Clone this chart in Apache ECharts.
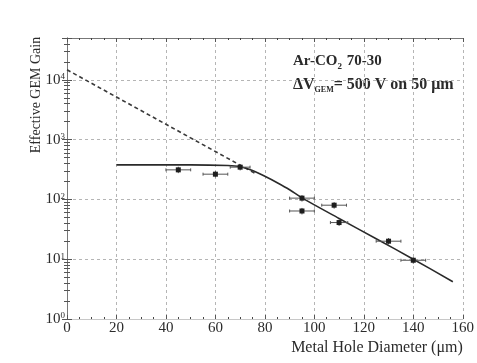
<!DOCTYPE html>
<html>
<head>
<meta charset="utf-8">
<script src="https://cdn.jsdelivr.net/npm/echarts@6/dist/echarts.min.js"></script>
<style>
  html, body { margin: 0; padding: 0; background: #fff; }
  #chart { width: 477px; height: 363px; }
</style>
</head>
<body>
<div id="chart"></div>
<script>
// measured points (hole diameter in um, effective gain)
const diameter = [45, 60, 70, 95, 95, 108, 110, 130, 140]
const diameterErr = [5, 5, 4, 5, 5, 5, 3.5, 5, 5]
const gain = [312, 264, 346, 105, 64, 80, 41, 20, 9.6]
const gainLow = [275, 233, 305, 92, 56, 70, 36, 17.6, 8.4]
const gainHigh = [352, 298, 390, 118, 72, 90, 46, 22.6, 10.8]

// fitted curve (solid) and its extrapolation (dashed)
const fitX = [20, 50, 65, 70, 75, 80, 85, 90, 95, 110, 125, 140, 156]
const fitY = [378, 378, 368, 352, 305, 243, 190, 145, 106, 48, 22, 10, 4.2]
const extrapX = [0, 76]
const extrapY = [14700, 273]

const SERIF = '"Liberation Serif", "DejaVu Serif", serif'
const INK = '#2b2b2b'
const GRID_LINE = { show: true, lineStyle: { color: '#b5b5b5', type: [3, 3], width: 1 } }

const chart = echarts.init(document.getElementById('chart'))

const pairs = (xs, ys) => xs.map((x, i) => [x, ys[i]])
const isPow10 = (v) => Math.abs(Math.log10(v) - Math.round(Math.log10(v))) < 1e-6

const xBase = {
  type: 'value',
  min: 0,
  max: 160,
  interval: 20,
  axisTick: { show: true, inside: true, length: 4, lineStyle: { color: '#555' } },
  minorTick: { show: true, splitNumber: 4, length: 2, lineStyle: { color: '#444', width: 1 } },
}

const yBase = {
  type: 'log',
  logBase: 10,
  min: 1,
  max: 50000,
  axisTick: { show: true, inside: true, length: 5, lineStyle: { color: '#555' } },
  minorTick: { show: true, splitNumber: 9, length: 3, lineStyle: { color: '#555', width: 1 } },
}

const errorBars = diameter.map((x, i) => [x, gain[i], diameterErr[i], gainLow[i], gainHigh[i]])

const option = {
  animation: false,
  backgroundColor: '#fff',
  grid: { left: 67, right: 9, top: 38, bottom: 44 },
  xAxis: [
    {
      ...xBase,
      position: 'bottom',
      axisLine: { show: true, lineStyle: { color: '#c8c8c8', width: 1 } },
      splitLine: GRID_LINE,
      axisLabel: { color: INK, fontFamily: SERIF, fontSize: 15, margin: 2 },
      name: 'Metal Hole Diameter (μm)',
      nameLocation: 'end',
      nameGap: 0,
      nameTextStyle: {
        color: INK, fontFamily: SERIF, fontSize: 16,
        align: 'right', verticalAlign: 'top', padding: [21, 0, 0, 0]
      }
    },
    {
      ...xBase,
      position: 'top',
      axisLine: { show: true, lineStyle: { color: '#777', width: 1 } },
      splitLine: { show: false },
      axisLabel: { show: false }
    }
  ],
  yAxis: [
    {
      ...yBase,
      position: 'left',
      axisLine: { show: true, lineStyle: { color: '#777', width: 1 } },
      splitLine: GRID_LINE,
      axisLabel: {
        color: INK, fontFamily: SERIF, fontSize: 15, margin: 2,
        formatter: (v) => isPow10(v) ? '10{s|' + Math.round(Math.log10(v)) + '}' : '',
        rich: { s: { fontFamily: SERIF, fontSize: 9, color: INK, verticalAlign: 'top', padding: [0, 0, 6, 0] } }
      }
    },
    {
      ...yBase,
      position: 'right',
      axisLine: { show: true, lineStyle: { color: '#777', width: 1 } },
      splitLine: { show: false },
      axisLabel: { show: false }
    }
  ],
  graphic: [
    {
      type: 'text',
      x: 36,
      y: 95,
      rotation: Math.PI / 2,
      style: {
        text: 'Effective GEM Gain',
        font: '14px ' + SERIF,
        fill: INK,
        align: 'center',
        verticalAlign: 'middle'
      }
    },
    {
      type: 'text',
      x: 293,
      y: 52,
      style: {
        text: 'Ar-CO{sub|2} 70-30',
        font: 'bold 15px ' + SERIF,
        fill: INK,
        rich: {
          sub: { font: 'bold 9px ' + SERIF, fill: INK, padding: [10, 1, 0, 0] }
        }
      }
    },
    {
      type: 'text',
      x: 293,
      y: 75,
      style: {
        text: 'ΔV{sub|GEM}= 500 V on 50 μm',
        font: 'bold 16px ' + SERIF,
        fill: INK,
        rich: {
          sub: { font: 'bold 8px ' + SERIF, fill: INK, padding: [11, 0, 0, 0] }
        }
      }
    }
  ],
  series: [
    {
      name: 'extrapolation',
      type: 'line',
      data: pairs(extrapX, extrapY),
      showSymbol: false,
      lineStyle: { color: '#3a3a3a', width: 1.6, type: [4, 3] },
      z: 3
    },
    {
      name: 'fit',
      type: 'line',
      data: pairs(fitX, fitY),
      smooth: 0.3,
      showSymbol: false,
      lineStyle: { color: '#2a2a2a', width: 1.6 },
      z: 4
    },
    {
      name: 'measured',
      type: 'custom',
      data: errorBars,
      encode: { x: 0, y: 1 },
      z: 5,
      renderItem(params, api) {
        const x = api.value(0), y = api.value(1), dx = api.value(2)
        const c = api.coord([x, y])
        const l = api.coord([x - dx, y])
        const r = api.coord([x + dx, y])
        const lo = api.coord([x, api.value(3)])
        const hi = api.coord([x, api.value(4)])
        const stroke = { stroke: '#555', lineWidth: 1 }
        return {
          type: 'group',
          children: [
            { type: 'line', shape: { x1: l[0], y1: l[1], x2: r[0], y2: r[1] }, style: stroke },
            { type: 'line', shape: { x1: l[0], y1: l[1] - 1.5, x2: l[0], y2: l[1] + 1.5 }, style: stroke },
            { type: 'line', shape: { x1: r[0], y1: r[1] - 1.5, x2: r[0], y2: r[1] + 1.5 }, style: stroke },
            { type: 'line', shape: { x1: lo[0], y1: lo[1], x2: hi[0], y2: hi[1] }, style: stroke },
            { type: 'rect', shape: { x: c[0] - 2.5, y: c[1] - 2.5, width: 5, height: 5 }, style: { fill: '#1e1e1e' } }
          ]
        }
      }
    }
  ]
}

chart.setOption(option)
</script>
</body>
</html>
